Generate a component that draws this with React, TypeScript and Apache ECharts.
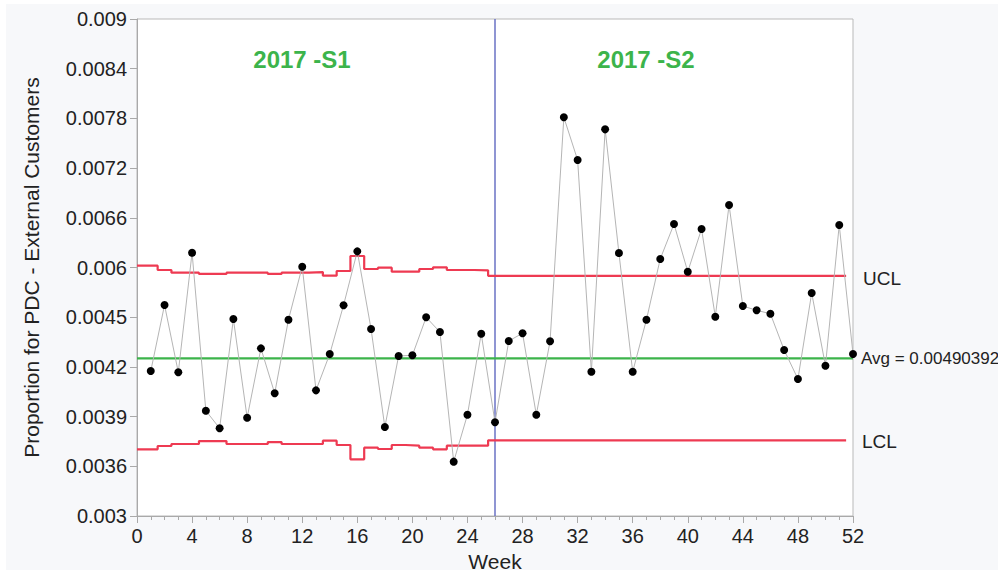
import React, { useEffect, useRef } from "react";
import * as echarts from "echarts";

// ---- data ----
const weeks = [
  1, 2, 3, 4, 5, 6, 7, 8, 9, 10, 11, 12, 13, 14, 15, 16, 17, 18, 19, 20, 21, 22, 23, 24, 25, 26,
  27, 28, 29, 30, 31, 32, 33, 34, 35, 36, 37, 38, 39, 40, 41, 42, 43, 44, 45, 46, 47, 48, 49, 50,
  51, 52,
];
const proportion = [
  0.00475, 0.005547, 0.004735, 0.006179, 0.004271, 0.004059, 0.005378, 0.004187, 0.005024, 0.004481,
  0.00537, 0.00601, 0.004517, 0.004956, 0.005544, 0.006195, 0.005257, 0.004074, 0.004932, 0.00494,
  0.005399, 0.005221, 0.003656, 0.004223, 0.005201, 0.004131, 0.005113, 0.005206, 0.004223, 0.005109,
  0.007813, 0.007298, 0.004742, 0.007668, 0.006175, 0.004742, 0.00537, 0.006103, 0.006525, 0.005949,
  0.006465, 0.005406, 0.006755, 0.005535, 0.005483, 0.005442, 0.005004, 0.004654, 0.005692, 0.004814,
  0.006513, 0.004956,
];
const average = 0.00490392;
// phase 1 (weeks 1..25) control limits
const uclS1 = [
  0.006022, 0.00597, 0.005937, 0.005937, 0.005922, 0.005922, 0.005937, 0.005937, 0.005937, 0.005922,
  0.005937, 0.005937, 0.005945, 0.005901, 0.005958, 0.006139, 0.005982, 0.005998, 0.005949, 0.005949,
  0.005982, 0.006002, 0.00597, 0.00597, 0.005966,
];
const lclS1 = [
  0.003805, 0.003845, 0.003869, 0.003869, 0.003905, 0.003905, 0.003869, 0.003869, 0.003869, 0.003893,
  0.003869, 0.003869, 0.003869, 0.003909, 0.003857, 0.003684, 0.003825, 0.003809, 0.003857, 0.003849,
  0.003825, 0.003805, 0.003849, 0.003849, 0.003849,
];
// phase 2 constant limits
const uclS2 = 0.0059;
const lclS2 = 0.003914;
const phaseSplitWeek = 26;
const phaseTitles = ["2017 -S1", "2017 -S2"];
const yTickLabels = [
  "0.003", "0.0036", "0.0039", "0.0042", "0.0045", "0.006", "0.0066", "0.0072", "0.0078", "0.0084", "0.009",
];
const Y_MIN = 0.003;
const Y_MAX = 0.009;
const Y_STEP = 0.0006;
const X_MIN = 0;
const X_MAX = 52;

const FONT = "'Liberation Sans', Arial, Helvetica, sans-serif";

function buildLimit(phase1: number[], phase2: number): number[][] {
  const pts: number[][] = [];
  phase1.forEach((v, i) => {
    const w = weeks[i];
    const x0 = i === 0 ? X_MIN : w - 0.5;
    pts.push([x0, v], [w + 0.5, v]);
  });
  const start = weeks[phase1.length] - 0.5;
  const end = weeks[weeks.length - 1] - 0.5;
  pts.push([start, phase2], [end, phase2]);
  return pts;
}

export default function App() {
  const ref = useRef<HTMLDivElement>(null);
  useEffect(() => {
    if (!ref.current) return;
    const chart = echarts.init(ref.current, null, { renderer: "svg" });
    const red = "#ee3a52";
    const green = "#3cb44b";
    chart.setOption({
      animation: false,
      backgroundColor: "transparent",
      grid: {
        left: 137,
        right: 145,
        top: 19,
        bottom: 56,
        containLabel: false,
        outerBoundsMode: "none",
        show: true,
        backgroundColor: "#ffffff",
        borderColor: "#b9b9b9",
        borderWidth: 1,
      },
      xAxis: {
        type: "value",
        min: X_MIN,
        max: X_MAX,
        interval: 4,
        name: "Week",
        nameLocation: "middle",
        nameGap: 29,
        nameTextStyle: { fontFamily: FONT, fontSize: 21, color: "#222" },
        axisLine: { show: true, lineStyle: { color: "#a9a9a9" } },
        axisTick: { show: true, length: 7, lineStyle: { color: "#a9a9a9" } },
        minorTick: { show: true, splitNumber: 4, length: 4, lineStyle: { color: "#a9a9a9" } },
        splitLine: { show: false },
        axisLabel: { fontFamily: FONT, fontSize: 20, color: "#222", margin: 10 },
      },
      yAxis: {
        type: "value",
        min: Y_MIN,
        max: Y_MAX,
        interval: Y_STEP,
        name: "Proportion for PDC - External Customers",
        nameLocation: "middle",
        nameGap: 95,
        nameTextStyle: { fontFamily: FONT, fontSize: 21, color: "#222" },
        axisLine: { show: true, lineStyle: { color: "#a9a9a9" } },
        axisTick: { show: true, length: 7, lineStyle: { color: "#a9a9a9" } },
        splitLine: { show: false },
        axisLabel: {
          fontFamily: FONT,
          fontSize: 20,
          color: "#222",
          margin: 10,
          formatter: (val: number) => {
            const idx = Math.round((val - Y_MIN) / Y_STEP);
            return yTickLabels[idx] ?? "";
          },
        },
      },
      series: [
        {
          type: "line",
          name: "phase",
          data: [
            [phaseSplitWeek, Y_MIN],
            [phaseSplitWeek, Y_MAX],
          ],
          symbol: "none",
          lineStyle: { color: "#6a72c4", width: 1.5 },
          silent: true,
          z: 1,
        },
        {
          type: "line",
          name: "UCL",
          data: buildLimit(uclS1, uclS2),
          symbol: "none",
          lineStyle: { color: red, width: 2.2 },
          z: 2,
        },
        {
          type: "line",
          name: "LCL",
          data: buildLimit(lclS1, lclS2),
          symbol: "none",
          lineStyle: { color: red, width: 2.2 },
          z: 2,
        },
        {
          type: "line",
          name: "Avg",
          data: [
            [X_MIN, average],
            [X_MAX, average],
          ],
          symbol: "none",
          lineStyle: { color: green, width: 2.2 },
          z: 3,
        },
        {
          type: "line",
          name: "Proportion",
          data: weeks.map((w, i) => [w, proportion[i]]),
          symbol: "circle",
          symbolSize: 8,
          itemStyle: { color: "#000" },
          lineStyle: { color: "#b5b5b5", width: 1 },
          clip: false,
          z: 4,
        },
      ],
      graphic: [
        {
          type: "text",
          x: 302,
          y: 59,
          style: {
            text: phaseTitles[0],
            fill: green,
            font: `bold 24px ${FONT}`,
            textAlign: "center",
            textVerticalAlign: "middle",
          },
        },
        {
          type: "text",
          x: 646,
          y: 59,
          style: {
            text: phaseTitles[1],
            fill: green,
            font: `bold 24px ${FONT}`,
            textAlign: "center",
            textVerticalAlign: "middle",
          },
        },
        {
          type: "text",
          x: 863,
          y: 278,
          style: { text: "UCL", fill: "#222", font: `19px ${FONT}`, textVerticalAlign: "middle" },
        },
        {
          type: "text",
          x: 861,
          y: 358,
          style: {
            text: "Avg = " + average.toString(),
            fill: "#222",
            font: `17px ${FONT}`,
            textVerticalAlign: "middle",
          },
        },
        {
          type: "text",
          x: 862,
          y: 441,
          style: { text: "LCL", fill: "#222", font: `19px ${FONT}`, textVerticalAlign: "middle" },
        },
      ],
    });
    return () => chart.dispose();
  }, []);

  return (
    <div style={{ position: "fixed", left: 0, top: 0, width: 998, height: 572, background: "#ffffff" }}>
      <div
        style={{ position: "absolute", left: 6, top: 4, width: 992, height: 566, background: "#f7f8fa" }}
      />
      <div ref={ref} style={{ position: "absolute", left: 0, top: 0, width: 998, height: 572 }} />
    </div>
  );
}
